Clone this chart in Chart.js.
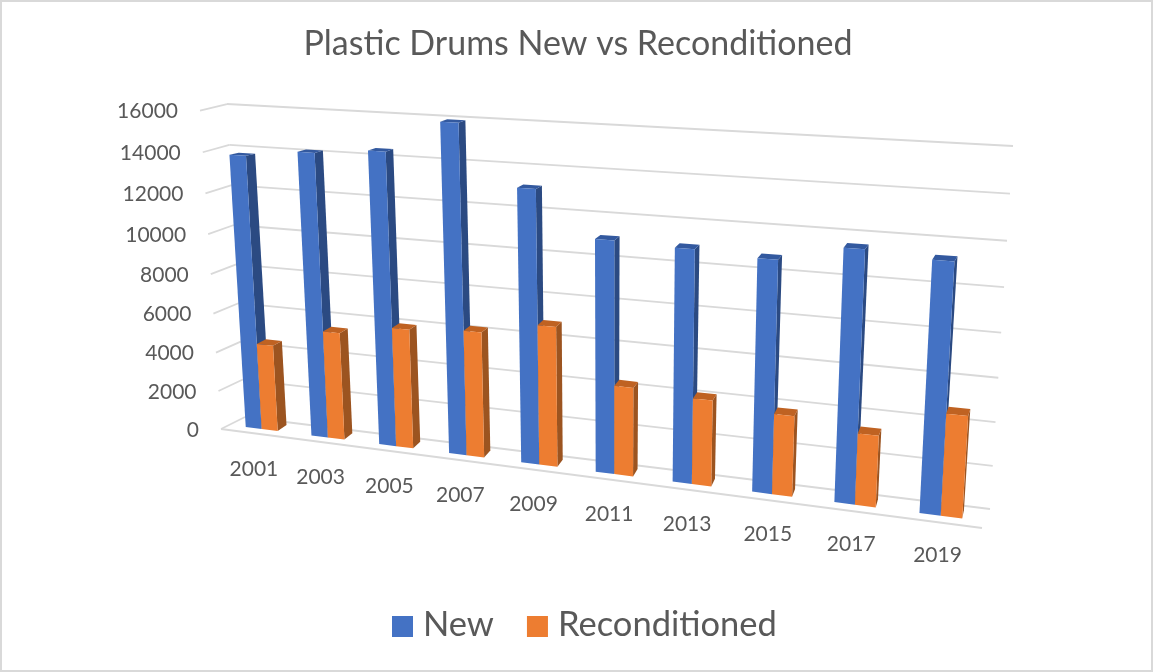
<!DOCTYPE html>
<html>
<head>
<meta charset="utf-8">
<script src="https://cdn.jsdelivr.net/npm/chart.js@4/dist/chart.umd.js"></script>
<style>
  html, body { margin: 0; background: #fff; }
  #wrap { width: 1153px; height: 672px; }
</style>
</head>
<body>
<div id="wrap"><canvas id="drumsChart" width="1153" height="672"></canvas></div>
<script>
const years = ['2001', '2003', '2005', '2007', '2009', '2011', '2013', '2015', '2017', '2019'];
const newDrums = [13800, 14150, 14420, 15950, 13140, 11050, 10940, 10760, 11510, 11280];
const reconditioned = [4420, 5420, 5950, 6170, 6790, 4270, 4080, 3770, 3310, 4640];

const textColor = '#595959';
const gridColor = '#d9d9d9';
const uiFont = 'Lato, "Open Sans", sans-serif';

// unit square -> screen quad, corners given as (0,0) (1,0) (1,1) (0,1)
function makeProjection(p0, p1, p2, p3) {
    const sx = p0[0] - p1[0] + p2[0] - p3[0];
    const sy = p0[1] - p1[1] + p2[1] - p3[1];
    const dx1 = p1[0] - p2[0], dx2 = p3[0] - p2[0];
    const dy1 = p1[1] - p2[1], dy2 = p3[1] - p2[1];
    const det = dx1 * dy2 - dx2 * dy1;
    const g = (sx * dy2 - dx2 * sy) / det;
    const h = (dx1 * sy - sx * dy1) / det;
    const a = p1[0] - p0[0] + g * p1[0], b = p3[0] - p0[0] + h * p3[0];
    const d = p1[1] - p0[1] + g * p1[1], e = p3[1] - p0[1] + h * p3[1];
    return (u, v) => {
        const w = g * u + h * v + 1;
        return [(a * u + b * v + p0[0]) / w, (d * u + e * v + p0[1]) / w];
    };
}

// the planes of the tilted 3D box
const backWall = makeProjection([245, 417], [990, 509], [1013, 146], [227, 104]);
const frontEdge = makeProjection([221, 429], [982, 528], [1008, 152], [200, 110.5]);
const barFront = makeProjection([229.3, 424.9], [984.8, 521.3], [1007.4, 151.3], [209.5, 108.2]);
const barBack = makeProjection([238.8, 418.9], [986.3, 513], [1010.9, 146.8], [219, 106.7]);

function poly(ctx, pts, color) {
    ctx.beginPath();
    pts.forEach((p, i) => i ? ctx.lineTo(p[0], p[1]) : ctx.moveTo(p[0], p[1]));
    ctx.closePath();
    ctx.fillStyle = color;
    ctx.fill();
}

function line(ctx, a, b) {
    ctx.beginPath();
    ctx.moveTo(a[0], a[1]);
    ctx.lineTo(b[0], b[1]);
    ctx.stroke();
}

const box3d = {
    id: 'box3d',
    beforeDatasetsDraw(chart) {
        const { ctx, chartArea: area, scales: { x, y } } = chart;
        const toU = px => (px - area.left) / (area.right - area.left);
        const toV = px => (area.bottom - px) / (area.bottom - area.top);

        ctx.save();
        ctx.fillStyle = textColor;
        ctx.strokeStyle = gridColor;
        ctx.lineWidth = 1.8;

        // walls and value labels
        ctx.font = '21px ' + uiFont;
        ctx.textAlign = 'right';
        ctx.textBaseline = 'middle';
        y.ticks.forEach(t => {
            const v = toV(y.getPixelForValue(t.value));
            const corner = frontEdge(0, v);
            line(ctx, corner, backWall(0, v));
            line(ctx, backWall(0, v), backWall(1, v));
            ctx.fillText(t.label, corner[0] - 22, corner[1] + 1);
        });
        line(ctx, frontEdge(0, 0), frontEdge(1, 0));

        // year labels hang below the bar floor
        ctx.textAlign = 'center';
        x.ticks.forEach((t, i) => {
            const u = toU(x.getPixelForTick(i));
            const p = barFront(u, 0);
            ctx.fillText(x.getLabelForValue(t.value), p[0] - 8 + 5 * u, p[1] + 40);
        });

        // bars, back series first
        chart.data.datasets.forEach((ds, di) => {
            chart.getDatasetMeta(di).data.forEach(bar => {
                const l = toU(bar.x - bar.width / 2), r = toU(bar.x + bar.width / 2);
                const t = toV(bar.y), b = toV(bar.base);
                poly(ctx, [barFront(r, b), barFront(r, t), barBack(r, t), barBack(r, b)], ds.sideColor);
                poly(ctx, [barFront(l, t), barFront(r, t), barBack(r, t), barBack(l, t)], ds.topColor);
                poly(ctx, [barFront(l, b), barFront(r, b), barFront(r, t), barFront(l, t)], ds.backgroundColor);
            });
        });

        // legend
        let lx = 392;
        ctx.font = '34.5px ' + uiFont;
        ctx.textAlign = 'left';
        chart.data.datasets.forEach(ds => {
            ctx.fillStyle = ds.backgroundColor;
            ctx.fillRect(lx, 616, 21, 21);
            ctx.fillStyle = textColor;
            ctx.fillText(ds.label, lx + 31, 625);
            lx += 31 + ctx.measureText(ds.label).width + 33;
        });

        ctx.restore();
        return false;
    },
    afterDraw(chart) {
        const { ctx, width, height } = chart;
        ctx.save();
        ctx.strokeStyle = '#d9d9d9';
        ctx.lineWidth = 2;
        ctx.strokeRect(1, 1, width - 2, height - 2);
        ctx.restore();
    }
};

new Chart(document.getElementById('drumsChart').getContext('2d'), {
    type: 'bar',
    data: {
        labels: years,
        datasets: [
            { label: 'New', data: newDrums, backgroundColor: '#4472c4', sideColor: '#2b4a82', topColor: '#33599f' },
            { label: 'Reconditioned', data: reconditioned, backgroundColor: '#ed7d31', sideColor: '#9c5420', topColor: '#bf6222' }
        ]
    },
    options: {
        responsive: false,
        animation: false,
        layout: { padding: { left: 3 } },
        datasets: { bar: { categoryPercentage: 0.49, barPercentage: 1 } },
        plugins: {
            legend: { display: false },
            tooltip: { enabled: false },
            title: {
                display: true,
                text: 'Plastic Drums New vs Reconditioned',
                color: textColor,
                font: { family: uiFont, size: 34, weight: 'normal' },
                padding: { top: 24, bottom: 10 }
            }
        },
        scales: {
            x: { display: false, ticks: { autoSkip: false } },
            y: { display: false, min: 0, max: 16000, ticks: { stepSize: 2000, callback: v => String(v) } }
        }
    },
    plugins: [box3d]
});
</script>
</body>
</html>
